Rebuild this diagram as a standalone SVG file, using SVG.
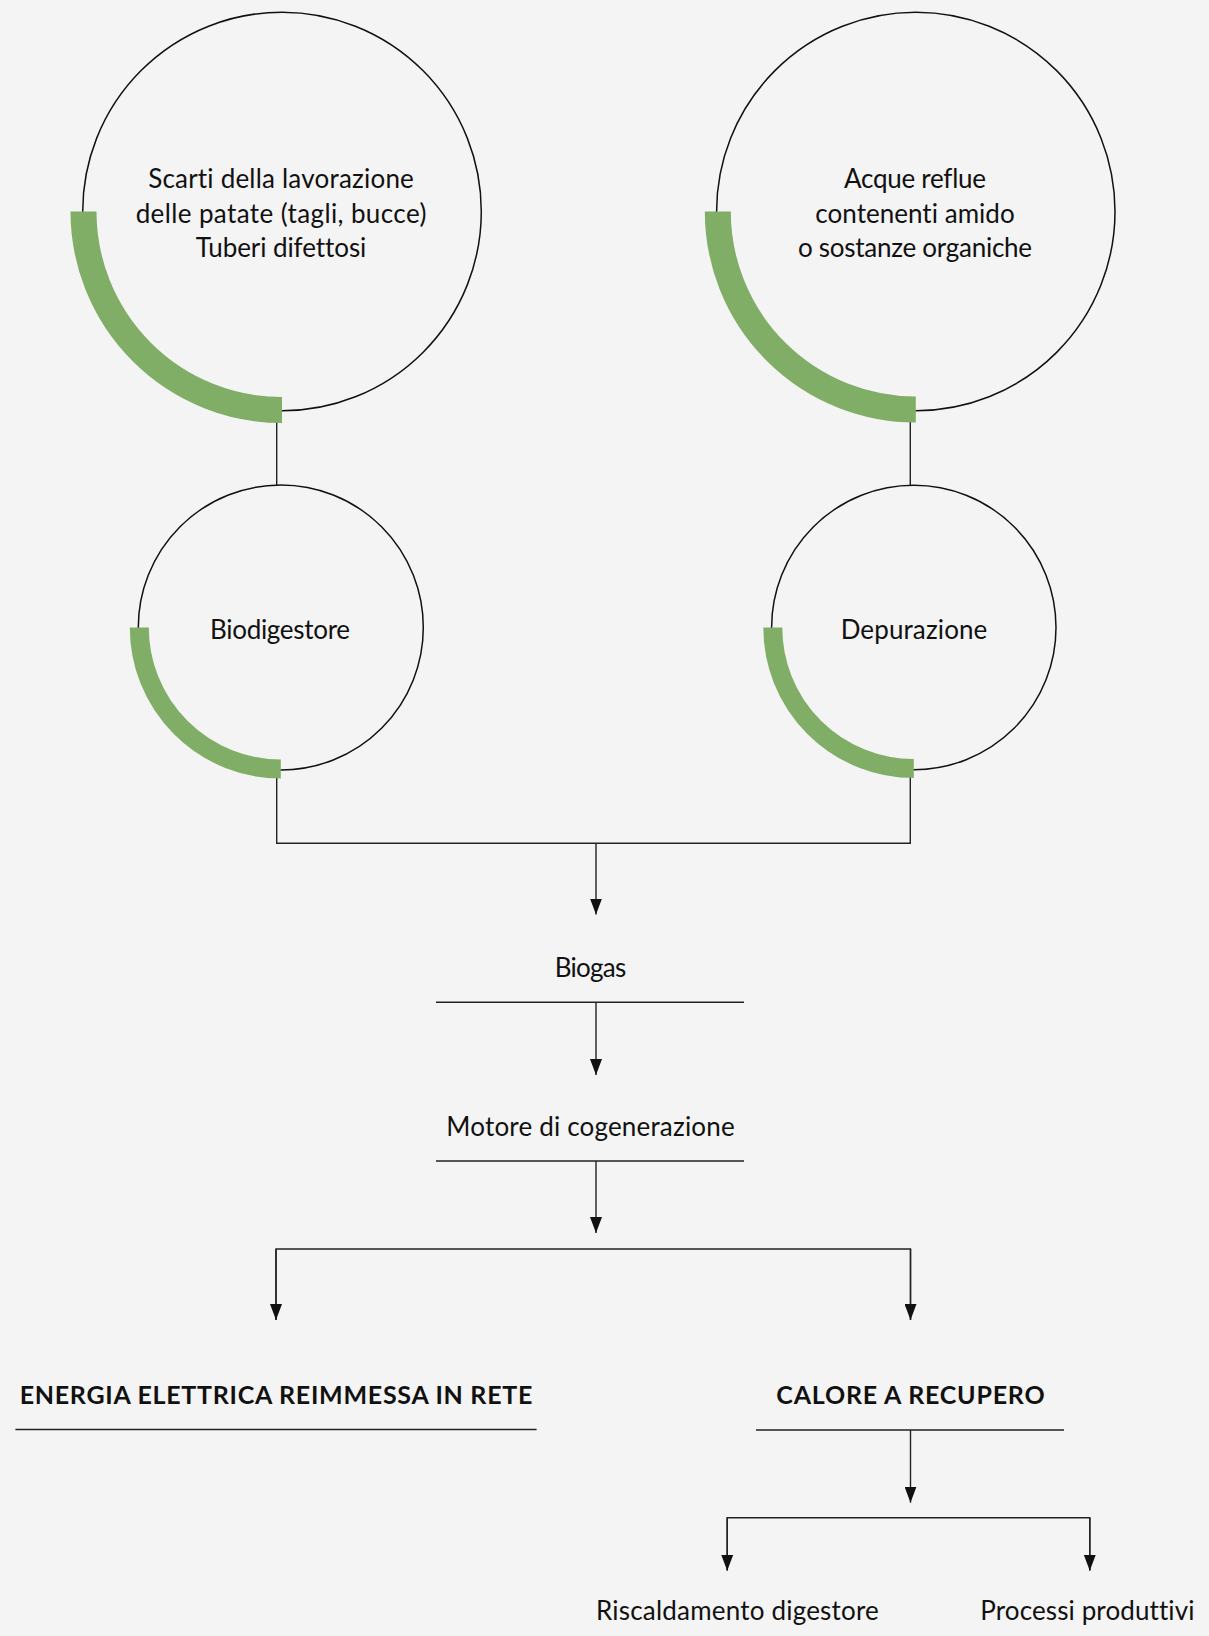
<svg xmlns="http://www.w3.org/2000/svg" width="1209" height="1636" viewBox="0 0 1209 1636">
  <style>
    .ring { fill: none; stroke: #111; stroke-width: 1.5; }
    .band { fill: none; stroke: #80ae66; stroke-linecap: butt; }
    .lbl { font-family: Lato, "Open Sans", sans-serif; font-size: 26px; fill: #111; text-anchor: middle; font-variant-ligatures: none; }
    .head { font-family: Lato, "Open Sans", sans-serif; font-size: 25px; font-weight: bold; fill: #111; text-anchor: middle; font-variant-ligatures: none; }
    .wire { fill: none; stroke: #222; stroke-width: 1.4; }
    .arrow { fill: none; stroke: #222; stroke-width: 1.4; marker-end: url(#tip); }
    .rule { stroke: #222; stroke-width: 1.4; }
  </style>
  <defs>
    <marker id="tip" viewBox="0 0 16 12" refX="16" refY="6" markerWidth="16" markerHeight="12" markerUnits="userSpaceOnUse" orient="auto">
      <path d="M0,0 L16,6 L0,12 z" fill="#111"/>
    </marker>
  </defs>
  <rect width="1209" height="1636" fill="#f4f4f4"/>

  <!-- connectors -->
  <g id="connectors">
    <line class="wire" x1="276.7" y1="411" x2="276.7" y2="485"/>
    <line class="wire" x1="910.3" y1="411" x2="910.3" y2="485"/>
    <polyline class="wire" points="276.7,770 276.7,843.3 910.3,843.3 910.3,770"/>
    <line class="arrow" x1="596" y1="843.3" x2="596" y2="914.5"/>
    <line class="arrow" x1="596" y1="1002.3" x2="596" y2="1075"/>
    <line class="arrow" x1="596" y1="1161" x2="596" y2="1233"/>
    <polyline class="wire" points="276,1320 276,1249 910.5,1249 910.5,1320"/>
    <line class="arrow" x1="276" y1="1249" x2="276" y2="1320"/>
    <line class="arrow" x1="910.5" y1="1249" x2="910.5" y2="1320"/>
    <line class="arrow" x1="910.5" y1="1430" x2="910.5" y2="1502.7"/>
    <polyline class="wire" points="727.2,1570 727.2,1517.7 1089.8,1517.7 1089.8,1570"/>
    <line class="arrow" x1="727.2" y1="1517.7" x2="727.2" y2="1570.7"/>
    <line class="arrow" x1="1089.8" y1="1517.7" x2="1089.8" y2="1570.7"/>
  </g>

  <!-- source: potato waste -->
  <g id="scarti">
    <circle class="ring" cx="282" cy="211.5" r="199.3"/>
    <path class="band" stroke-width="26" d="M83.5,211.5 A198.5,198.5 0 0 0 282,410"/>
    <text class="lbl" x="281" y="188" textLength="265.7" lengthAdjust="spacing">Scarti della lavorazione</text>
    <text class="lbl" x="281" y="222.7" textLength="290.7" lengthAdjust="spacing">delle patate (tagli, bucce)</text>
    <text class="lbl" x="281" y="257" textLength="170.7" lengthAdjust="spacing">Tuberi difettosi</text>
  </g>

  <!-- source: waste water -->
  <g id="acque">
    <circle class="ring" cx="915.8" cy="211.5" r="199.2"/>
    <path class="band" stroke-width="26" d="M717.8,211.5 A198,198 0 0 0 915.8,409.5"/>
    <text class="lbl" x="915" y="188" textLength="142" lengthAdjust="spacing">Acque reflue</text>
    <text class="lbl" x="915" y="222.7" textLength="199.3" lengthAdjust="spacing">contenenti amido</text>
    <text class="lbl" x="915" y="257" textLength="234" lengthAdjust="spacing">o sostanze organiche</text>
  </g>

  <g id="biodigestore">
    <circle class="ring" cx="280.8" cy="627.5" r="142.5"/>
    <path class="band" stroke-width="19" d="M139.3,627.5 A141.5,141.5 0 0 0 280.8,769"/>
    <text class="lbl" x="280" y="639.3" textLength="140" lengthAdjust="spacing">Biodigestore</text>
  </g>

  <g id="depurazione">
    <circle class="ring" cx="913.8" cy="627.5" r="142.2"/>
    <path class="band" stroke-width="19" d="M772.8,627.5 A141,141 0 0 0 913.8,768.5"/>
    <text class="lbl" x="914" y="639" textLength="146.7" lengthAdjust="spacing">Depurazione</text>
  </g>

  <g id="biogas">
    <text class="lbl" x="590.5" y="977.3" textLength="71.7" lengthAdjust="spacing">Biogas</text>
    <line class="rule" x1="436" y1="1002.3" x2="744" y2="1002.3"/>
  </g>

  <g id="motore">
    <text class="lbl" x="590.5" y="1136" textLength="288.3" lengthAdjust="spacing">Motore di cogenerazione</text>
    <line class="rule" x1="436" y1="1161" x2="744" y2="1161"/>
  </g>

  <g id="energia">
    <text class="head" x="276" y="1404" textLength="512.7" lengthAdjust="spacing">ENERGIA ELETTRICA REIMMESSA IN RETE</text>
    <line class="rule" x1="15.4" y1="1429.5" x2="536.6" y2="1429.5"/>
  </g>

  <g id="calore">
    <text class="head" x="910.5" y="1404" textLength="268.3" lengthAdjust="spacing">CALORE A RECUPERO</text>
    <line class="rule" x1="756" y1="1430" x2="1064" y2="1430"/>
  </g>

  <g id="riscaldamento">
    <text class="lbl" x="737.4" y="1620" textLength="282.8" lengthAdjust="spacing">Riscaldamento digestore</text>
  </g>

  <g id="processi">
    <text class="lbl" x="1087.4" y="1620" textLength="214.2" lengthAdjust="spacing">Processi produttivi</text>
  </g>
</svg>
